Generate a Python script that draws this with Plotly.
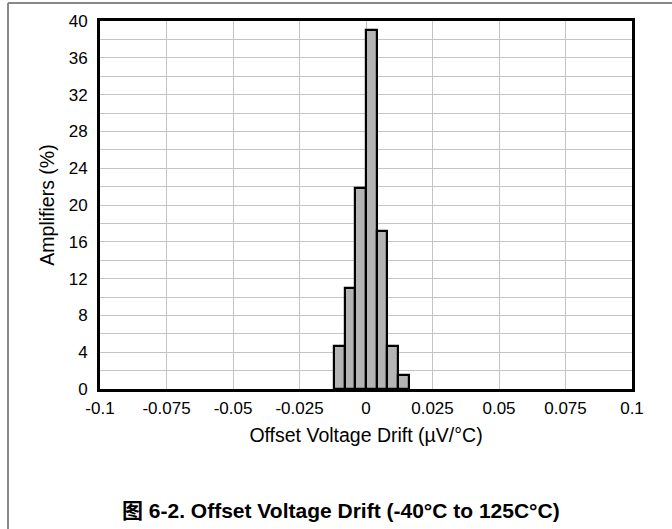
import plotly.graph_objects as go

# Data
bin_left = [-0.012, -0.008, -0.004, 0.0, 0.004, 0.008, 0.012]
bin_width = 0.004
amplifiers_pct = [4.6875, 10.9375, 21.875, 39.0625, 17.1875, 4.6875, 1.5625]
x_ticks = [-0.1, -0.075, -0.05, -0.025, 0, 0.025, 0.05, 0.075, 0.1]
x_tick_text = ["-0.1", "-0.075", "-0.05", "-0.025", "0", "0.025", "0.05", "0.075", "0.1"]
y_ticks = [0, 4, 8, 12, 16, 20, 24, 28, 32, 36, 40]

centers = [b + bin_width / 2 for b in bin_left]

W, H = 672, 529
L, R, T, B = 100, 40, 21, 140
pw, ph = W - L - R, H - T - B

def px_x(p):
    return (p - L) / pw

def px_y(p):
    return (H - B - p) / ph

fig = go.Figure()
fig.add_trace(go.Bar(
    x=centers, y=amplifiers_pct, width=[bin_width] * len(centers),
    marker=dict(color="#b4b4b4", line=dict(color="black", width=2.2)),
    showlegend=False,
))

font = "Arial, Liberation Sans, sans-serif"

fig.update_layout(
    width=W, height=H,
    margin=dict(l=L, r=R, t=T, b=B),
    paper_bgcolor="white", plot_bgcolor="white",
    font=dict(family=font, size=17, color="black"),
    bargap=0,
    xaxis=dict(
        range=[-0.1, 0.1], tickvals=x_ticks, ticktext=x_tick_text,
        showgrid=True, gridcolor="#c4c4c4", gridwidth=1,
        showline=True, linecolor="black", linewidth=3, mirror=True,
        ticks="", zeroline=False, ticklabelstandoff=2,
        title=dict(text="Offset Voltage Drift (µV/°C)", font=dict(size=19.5), standoff=11),
        tickfont=dict(size=17),
    ),
    yaxis=dict(
        range=[0, 40], tickvals=y_ticks,
        showgrid=True, gridcolor="#c4c4c4", gridwidth=1,
        minor=dict(dtick=2, showgrid=True, gridcolor="#c4c4c4", gridwidth=1),
        showline=True, linecolor="black", linewidth=3, mirror=True,
        ticks="", zeroline=False, ticklabelstandoff=6,
        title=dict(text="Amplifiers (%)", font=dict(size=19.5), standoff=9),
        tickfont=dict(size=17),
    ),
    annotations=[dict(
        text="<b>图 6-2. Offset Voltage Drift (-40°C to 125C°C)</b>",
        xref="paper", yref="paper", x=px_x(341), y=px_y(510),
        xanchor="center", yanchor="middle", showarrow=False,
        font=dict(size=21, family=font + ", Noto Sans CJK SC"),
    )],
    shapes=[
        dict(type="line", xref="paper", yref="paper",
             x0=px_x(8), x1=px_x(W), y0=px_y(3), y1=px_y(3),
             line=dict(color="#888888", width=2)),
        dict(type="line", xref="paper", yref="paper",
             x0=px_x(8), x1=px_x(8), y0=px_y(3), y1=px_y(H),
             line=dict(color="#888888", width=2)),
    ],
)

fig.write_html("out.html", config={"displayModeBar": False},
               post_script="document.body.style.margin='0';document.body.style.overflow='hidden';")
